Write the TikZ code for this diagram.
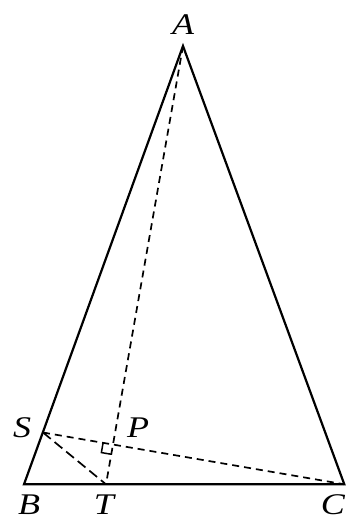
\documentclass[tikz,border=0pt]{standalone}
\usepackage{fontspec}
\usepackage{graphicx}
\setmainfont{Liberation Serif}
\usetikzlibrary{calc}
\newcommand{\wlbl}[1]{\scalebox{1.2}[1]{#1}}
\begin{document}
\begin{tikzpicture}[x=1pt,y=-1pt,
  solidline/.style={line width=2.2pt},
  dashline/.style={line width=1.7pt, dash pattern=on 7pt off 5pt},
  lbl/.style={anchor=base, inner sep=0pt, font=\fontsize{30}{32}\selectfont\itshape}]
\useasboundingbox (0,0) rectangle (347,520);
\coordinate (A) at (183,46);
\coordinate (B) at (24,484.3);
\coordinate (C) at (344.3,484.3);
\coordinate (T) at (106,484.3);
\coordinate (S) at (43,432.5);
\coordinate (P) at (112.95,444.4);
\draw[solidline, line join=miter] (B) -- (A) -- (C) -- cycle;
\draw[dashline] (A) -- (T);
\draw[dashline] (S) -- (C);
\draw[dashline, dash pattern=on 10pt off 5pt] (S) -- (T);
% right angle mark
\coordinate (u) at ($(P)!10pt!(S)$);
\coordinate (v) at ($(P)!10pt!(T)$);
\draw[line width=1.5pt] (u) -- ($(u)+(v)-(P)$) -- (v);
\node[lbl] (lA) at (183,34) {\wlbl{A}};
\node[lbl] (lS) at (22,437) {\wlbl{S}};
\node[lbl] (lP) at (138,437) {\wlbl{P}};
\node[lbl] (lB) at (29,514) {\wlbl{B}};
\node[lbl] (lT) at (104,514) {\wlbl{T}};
\node[lbl] (lC) at (333,514) {\wlbl{C}};
\end{tikzpicture}
\end{document}
